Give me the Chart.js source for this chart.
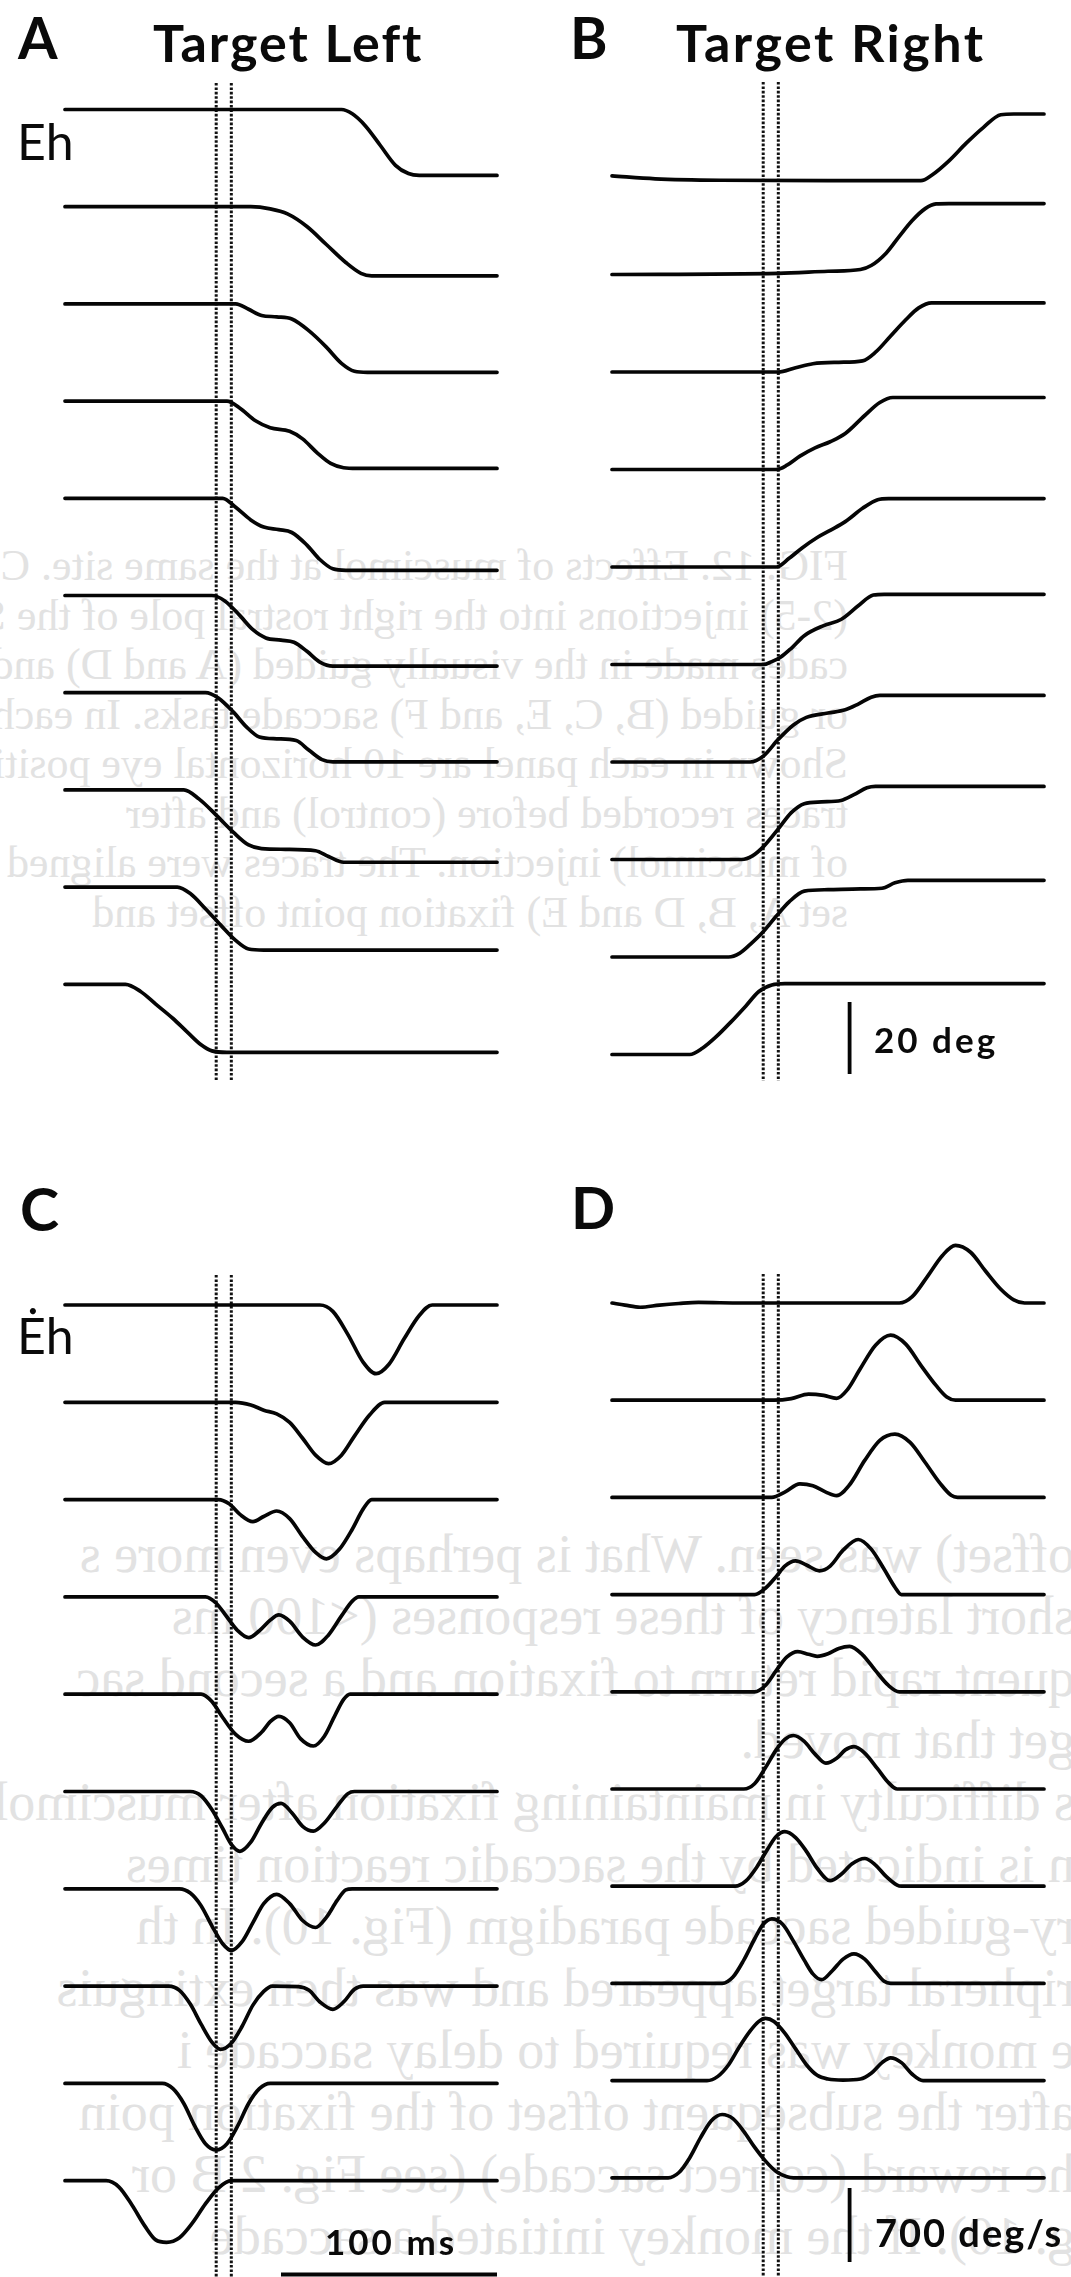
<!DOCTYPE html>
<html>
<head>
<meta charset="utf-8">
<title>Horizontal eye position and velocity, target left / right</title>
<script src="https://cdn.jsdelivr.net/npm/chart.js@4.4.1/dist/chart.umd.min.js"></script>
<style>
  html, body { margin: 0; padding: 0; background: #fff; }
  #page { position: relative; width: 1071px; height: 2277px; overflow: hidden; background: #fff; }
  #page canvas, #page svg { position: absolute; }
  .lbl { font-family: Lato, "DejaVu Sans", sans-serif; fill: #0a0a0a; }
  .ghost { font-family: "Liberation Serif", "DejaVu Serif", serif; fill: #e2e2e2; }
</style>
</head>
<body>
<div id="page">
  <svg id="ghost" width="1071" height="2277" style="left:0;top:0"><g id="ghostGroup" transform="translate(1071,0) scale(-1,1)"></g></svg>
  <canvas id="chartA" width="535" height="1140" style="left:0;top:0"></canvas>
  <canvas id="chartB" width="536" height="1140" style="left:535px;top:0"></canvas>
  <canvas id="chartC" width="535" height="1137" style="left:0;top:1140px"></canvas>
  <canvas id="chartD" width="536" height="1137" style="left:535px;top:1140px"></canvas>
  <svg id="labels" width="1071" height="2277" style="left:0;top:0;pointer-events:none">
    <text class="lbl" x="18" y="59" font-size="57" font-weight="700">A</text>
    <text class="lbl" x="153" y="62" font-size="52" font-weight="700" letter-spacing="2">Target Left</text>
    <text class="lbl" x="570" y="59" font-size="57" font-weight="700">B</text>
    <text class="lbl" x="676" y="62" font-size="52" font-weight="700" letter-spacing="2.5">Target Right</text>
    <text class="lbl" x="17" y="160" font-size="50" font-weight="400">Eh</text>
    <text class="lbl" x="20" y="1231" font-size="59" font-weight="700">C</text>
    <text class="lbl" x="17" y="1354" font-size="50" font-weight="400">Ėh</text>
    <text class="lbl" x="571" y="1229" font-size="58" font-weight="700">D</text>
    <text class="lbl" x="874" y="1053" font-size="35" font-weight="700" letter-spacing="3">20 deg</text>
    <text class="lbl" x="325" y="2255" font-size="35" font-weight="700" letter-spacing="3">100 ms</text>
    <text class="lbl" x="875" y="2247" font-size="38" font-weight="700" letter-spacing="2">700 deg/s</text>
  </svg>
</div>
<script>
// ── Data ────────────────────────────────────────────────────
// every trace is a list of [time ms, value] points, time 0..200 ms
// position in deg (negative = leftward), velocity in deg/s

const DOT_TIMES = [70, 77];   // the two dotted marker lines, ms
const SCALE_DEG = 20;
const SCALE_VEL = 700;
const SCALE_MS = 100;

// A: Eh, target left
const posLeft = [
  [[0,0],[128,0],[133,-1.2],[139,-4.5],[146,-10],[153,-15.5],[159,-17.8],[164,-18.3],[200,-18.3]],
  [[0,0],[86,0],[95,-0.6],[103,-2],[112,-5.5],[121,-10.5],[130,-15.5],[137,-18.5],[142,-19.2],[200,-19.2]],
  [[0,0],[79,0],[85,-1.5],[91,-3.2],[98,-3.6],[105,-4.2],[113,-7.5],[121,-12],[128,-16.5],[134,-18.7],[140,-19],[200,-19]],
  [[0,0],[75,0],[81,-2],[88,-5.4],[95,-7.4],[104,-8.4],[110,-10.5],[117,-14.5],[123,-17.3],[129,-18.5],[135,-18.7],[200,-18.7]],
  [[0,0],[73,0],[79,-2.5],[86,-6],[92,-8],[99,-8.7],[105,-9.5],[112,-13],[118,-17],[124,-19.6],[130,-20],[200,-20]],
  [[0,0],[68,0],[74,-1.5],[81,-5.6],[87,-9.5],[93,-11.8],[100,-12.4],[106,-13],[112,-15.5],[118,-18.5],[124,-19.6],[200,-19.6]],
  [[0,0],[65,0],[71,-1.5],[78,-5.4],[84,-9.5],[90,-12.3],[98,-12.8],[107,-13.3],[113,-16],[119,-18.6],[124,-19.2],[200,-19.2]],
  [[0,0],[55,0],[62,-2.5],[70,-7],[78,-11.8],[85,-15.3],[91,-16.3],[102,-16.5],[116,-16.9],[122,-18.5],[129,-20.1],[200,-20.1]],
  [[0,0],[52,0],[58,-1.8],[65,-6],[72,-10.5],[79,-14.8],[85,-17.2],[92,-17.5],[200,-17.5]],
  [[0,0],[28,0],[35,-2],[42,-5.5],[50,-9.5],[57,-13.5],[63,-16.8],[68,-18.5],[75,-18.9],[200,-18.9]]
];

// B: Eh, target right
const posRight = [
  [[0,0.3],[20,-0.5],[50,-0.9],[100,-1],[143,-1],[148,0.5],[156,4.5],[164,9.4],[172,13.8],[180,17.3],[186,17.5],[200,17.5]],
  [[0,0],[77,0.3],[100,0.9],[115,1.4],[120,2.5],[127,6],[133,10.6],[139,15],[145,18.3],[150,19.6],[156,19.7],[200,19.7]],
  [[0,0],[77,0],[85,1.2],[93,2.3],[105,2.7],[116,3.1],[122,5.5],[129,10],[136,14.5],[142,17.8],[148,19.2],[200,19.2]],
  [[0,0],[76,0],[81,1.2],[87,3.7],[94,6],[101,7.7],[108,10],[117,15],[124,18.6],[130,20],[200,20]],
  [[0,0],[76,0],[82,2.4],[88,5.3],[95,8.2],[101,10.2],[108,12.6],[116,16.3],[123,18.7],[128,19],[200,19]],
  [[0,0],[70,0],[74,0.8],[78,2],[83,4.5],[89,8],[98,10.8],[106,12.5],[114,16.3],[121,19.3],[126,19.5],[200,19.5]],
  [[0,0],[64,0],[70,1.6],[77,6.3],[84,10.3],[90,12.4],[100,13.6],[108,14.5],[114,16.1],[120,18],[124,18.5],[200,18.5]],
  [[0,0],[60,0],[65,1],[70,3.5],[77,8.5],[83,13],[89,15.5],[97,16],[106,16.4],[112,18],[118,19.9],[122,20.3],[200,20.3]],
  [[0,0],[54,0],[59,1],[64,3.5],[70,7],[76,11.3],[82,15.3],[89,18.3],[100,18.7],[115,18.9],[125,19.1],[131,20.6],[137,21.3],[200,21.3]],
  [[0,0],[36,0],[42,1.8],[48,4.8],[55,9],[62,13.5],[68,17.5],[74,19.3],[80,19.7],[200,19.7]]
];

// C: Eh velocity, target left
const velLeft = [
  [[0,0],[118,0],[124,-60],[131,-280],[138,-540],[144,-650],[150,-560],[157,-320],[164,-100],[170,0],[200,0]],
  [[0,0],[79,0],[86,-25],[92,-75],[98,-110],[104,-190],[110,-340],[116,-500],[122,-580],[128,-500],[134,-320],[141,-120],[148,0],[200,0]],
  [[0,0],[71,0],[76,-40],[81,-140],[87,-208],[92,-160],[98,-108],[104,-180],[110,-350],[116,-500],[121,-560],[127,-470],[133,-280],[138,-90],[142,0],[200,0]],
  [[0,0],[65,0],[70,-60],[75,-190],[80,-320],[85,-386],[90,-320],[95,-220],[99,-170],[104,-230],[110,-380],[116,-455],[122,-360],[128,-180],[133,-40],[136,0],[200,0]],
  [[0,0],[63,0],[68,-70],[73,-220],[79,-380],[85,-445],[91,-360],[95,-260],[99,-210],[104,-270],[109,-420],[115,-490],[120,-400],[125,-200],[129,-50],[132,0],[200,0]],
  [[0,0],[58,0],[63,-40],[68,-170],[73,-350],[77,-500],[81,-566],[86,-480],[91,-300],[96,-150],[100,-112],[105,-200],[110,-330],[115,-375],[120,-300],[126,-140],[131,-20],[134,0],[200,0]],
  [[0,0],[53,0],[58,-40],[63,-160],[68,-350],[73,-520],[77,-583],[82,-500],[87,-320],[92,-140],[98,-52],[104,-140],[110,-300],[116,-366],[121,-270],[126,-110],[130,-10],[133,0],[200,0]],
  [[0,0],[48,0],[53,-40],[58,-170],[63,-360],[68,-530],[72,-598],[77,-540],[82,-380],[87,-180],[92,-50],[96,0],[108,-5],[113,-40],[118,-150],[124,-220],[129,-150],[134,-30],[138,0],[200,0]],
  [[0,0],[45,0],[50,-50],[55,-190],[60,-400],[65,-570],[70,-630],[75,-570],[80,-400],[85,-190],[90,-50],[95,0],[200,0]],
  [[0,0],[19,0],[25,-60],[31,-230],[37,-430],[42,-560],[47,-583],[53,-540],[59,-400],[65,-220],[71,-70],[77,0],[200,0]]
];

// D: Eh velocity, target right
const velRight = [
  [[0,0],[6,-20],[13,-40],[22,-20],[31,-5],[40,5],[60,0],[133,0],[139,60],[146,250],[153,450],[159,545],[166,480],[173,300],[180,130],[186,30],[191,0],[200,0]],
  [[0,0],[75,0],[83,15],[91,57],[98,45],[104,17],[109,100],[115,300],[122,520],[129,615],[136,530],[143,330],[150,140],[155,30],[159,0],[200,0]],
  [[0,0],[74,0],[80,50],[87,128],[93,110],[99,50],[104,17],[110,120],[117,350],[124,540],[131,598],[138,520],[145,330],[152,130],[157,20],[160,0],[200,0]],
  [[0,0],[66,0],[71,60],[76,170],[80,270],[85,319],[90,280],[96,225],[101,270],[107,420],[114,521],[120,430],[126,240],[131,70],[134,0],[200,0]],
  [[0,0],[66,0],[71,60],[76,200],[81,330],[86,380],[91,355],[95,336],[100,360],[105,410],[110,430],[116,350],[122,200],[128,60],[133,0],[200,0]],
  [[0,0],[61,0],[66,50],[71,200],[76,370],[80,470],[84,506],[89,450],[94,330],[99,244],[104,290],[108,370],[112,401],[117,340],[123,190],[128,60],[132,0],[200,0]],
  [[0,0],[57,0],[62,50],[67,180],[72,350],[76,470],[80,516],[85,460],[90,330],[95,170],[101,52],[106,110],[111,210],[117,262],[122,200],[127,90],[132,10],[134,0],[200,0]],
  [[0,0],[51,0],[56,60],[61,220],[66,420],[70,560],[74,611],[79,560],[84,400],[89,220],[93,90],[97,35],[102,120],[107,230],[112,279],[117,230],[122,110],[126,20],[129,0],[200,0]],
  [[0,0],[44,0],[49,40],[54,150],[59,320],[64,470],[68,560],[71,588],[75,560],[80,450],[85,300],[90,150],[95,50],[100,15],[107,5],[115,15],[120,70],[125,170],[129,215],[134,170],[139,60],[144,0],[200,0]],
  [[0,0],[26,0],[31,50],[36,190],[41,380],[46,540],[51,599],[56,560],[61,440],[66,290],[71,160],[76,60],[81,10],[84,0],[200,0]]
];

// faint show-through of the facing page (mirrored on the scan)
const ghostCaption = [
  'FIG. 12. Effects of muscimol at the same site. C and D',
  '(2-5) injections into the right rostral pole of the SC on sac-',
  'cades made in the visually guided (A and D) and memory-',
  'or guided (B, C, E, and F) saccade tasks. In each',
  'Shown in each panel are 10 horizontal eye position',
  'traces recorded before (control) and after',
  'of muscimol) injection. The traces were aligned on',
  'set A, B, D and E) fixation point offset and'
];
const ghostBody = [
  'offset) was seen. What is perhaps even more s',
  'short latency of these responses (<100 ms',
  'quent rapid return to fixation and a second sac',
  'get that moved.',
  's difficulty in maintaining fixation after muscimol',
  'n is indicated by the saccadic reaction times',
  'ry-guided saccade paradigm (Fig. 10). In th',
  'ripheral target appeared and was then extinguis',
  'e monkey was required to delay saccade i',
  'after the subsequent offset of the fixation poin',
  'he reward (correct saccade) (see Fig. 2 B or',
  'g. 10). If the monkey initiated a saccade'
];

// ── Layout ─────────────────────────────────────────────────
const INK = '#050505';
const PX_PER_MS = 2.16;

const PANELS = [
  { id: 'chartA', traces: posLeft, left: 0, top: 0, width: 535, height: 1140,
    x0: 65, row0: 109.5, rowGap: 97.2, pxPerUnit: 3.6, dotTop: 83, dotBottom: 1081 },
  { id: 'chartB', traces: posRight, left: 535, top: 0, width: 536, height: 1140,
    x0: 612, row0: 177, rowGap: 97.5, pxPerUnit: 3.6, dotTop: 82, dotBottom: 1081,
    vBar: { t: 110, bottom: 1074, size: SCALE_DEG } },
  { id: 'chartC', traces: velLeft, left: 0, top: 1140, width: 535, height: 1137,
    x0: 65, row0: 1305, rowGap: 97.3, pxPerUnit: 74 / 700, dotTop: 1275, dotBottom: 2277,
    hBar: { t: 100, y: 2274.5, size: SCALE_MS } },
  { id: 'chartD', traces: velRight, left: 535, top: 1140, width: 536, height: 1137,
    x0: 612, row0: 1303, rowGap: 97.2, pxPerUnit: 74 / 700, dotTop: 1274, dotBottom: 2277,
    vBar: { t: 110, bottom: 2262, size: SCALE_VEL } }
];

function lineSet(data, extra) {
  return Object.assign({
    data: data,
    showLine: true,
    pointRadius: 0,
    borderColor: INK,
    borderWidth: 3.7,
    fill: false,
    clip: false
  }, extra || {});
}

function buildPanel(p) {
  const rowUnits = p.rowGap / p.pxPerUnit;
  const yMax = (p.row0 - p.top) / p.pxPerUnit;
  const yMin = yMax - p.height / p.pxPerUnit;
  const xMin = (p.left - p.x0) / PX_PER_MS;
  const xMax = xMin + p.width / PX_PER_MS;
  const valAt = pageY => (p.row0 - pageY) / p.pxPerUnit;

  // stacked traces, each shifted down by one row
  const datasets = p.traces.map((trace, i) => lineSet(
    trace.map(([t, v]) => ({ x: t, y: v - i * rowUnits })),
    { cubicInterpolationMode: 'monotone', borderJoinStyle: 'round', borderCapStyle: 'round' }
  ));

  // dotted markers
  DOT_TIMES.forEach(t => {
    datasets.push(lineSet(
      [{ x: t, y: valAt(p.dotTop) }, { x: t, y: valAt(p.dotBottom) }],
      { borderColor: '#111', borderWidth: 3, borderDash: [2.6, 1.8] }
    ));
  });

  // calibration bars
  if (p.vBar) {
    const yb = valAt(p.vBar.bottom);
    datasets.push(lineSet(
      [{ x: p.vBar.t, y: yb }, { x: p.vBar.t, y: yb + p.vBar.size }],
      { borderWidth: 3.8 }
    ));
  }
  if (p.hBar) {
    const yh = valAt(p.hBar.y);
    datasets.push(lineSet(
      [{ x: p.hBar.t, y: yh }, { x: p.hBar.t + p.hBar.size, y: yh }],
      { borderWidth: 3.8 }
    ));
  }

  const ctx = document.getElementById(p.id).getContext('2d');
  return new Chart(ctx, {
    type: 'scatter',
    data: { datasets: datasets },
    options: {
      responsive: false,
      animation: false,
      devicePixelRatio: 1,
      events: [],
      layout: { padding: 0 },
      plugins: {
        legend: { display: false },
        tooltip: { enabled: false },
        title: { display: false }
      },
      scales: {
        x: { type: 'linear', display: false, min: xMin, max: xMax },
        y: { type: 'linear', display: false, min: yMin, max: yMax }
      }
    }
  });
}

// ── Ghost text (mirrored) ─────────────────────────────────
function addGhost(lines, startX, baseline0, gap, size) {
  const NS = 'http://www.w3.org/2000/svg';
  const g = document.getElementById('ghostGroup');
  lines.forEach((s, k) => {
    const t = document.createElementNS(NS, 'text');
    t.setAttribute('class', 'ghost');
    t.setAttribute('x', 1071 - startX);
    t.setAttribute('y', baseline0 + k * gap);
    t.setAttribute('font-size', size);
    t.textContent = s;
    g.appendChild(t);
  });
}

addGhost(ghostCaption, 848, 580, 49.5, 44);
addGhost(ghostBody, 1075, 1572, 62, 54);

PANELS.forEach(buildPanel);
</script>
</body>
</html>
